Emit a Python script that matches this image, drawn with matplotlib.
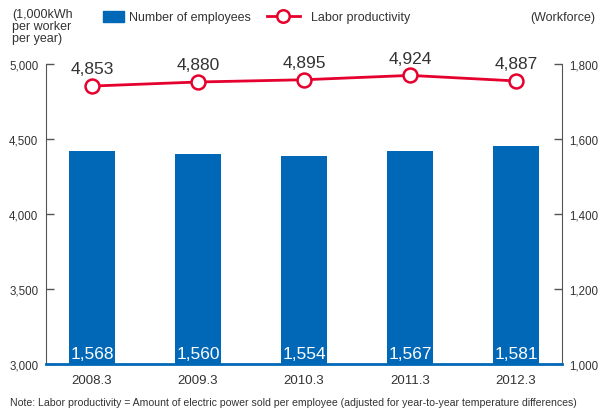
import matplotlib
matplotlib.use("Agg")
import matplotlib.pyplot as plt
from matplotlib.lines import Line2D
from matplotlib.patches import Patch

plt.rcParams['font.family'] = ['Liberation Sans', 'DejaVu Sans']

years = ["2008.3", "2009.3", "2010.3", "2011.3", "2012.3"]
employees = [1568, 1560, 1554, 1567, 1581]
productivity = [4853, 4880, 4895, 4924, 4887]
left_ticks = [3000, 3500, 4000, 4500, 5000]
right_ticks = [1000, 1200, 1400, 1600, 1800]

BLUE = "#0068b7"
RED = "#e5002d"
TXT = "#333333"
SPINE = "#555555"

fig = plt.figure(figsize=(6, 4.1), dpi=100)
ax = fig.add_axes([46/600, 45/410, 516/600, 300/410])
ax2 = ax.twinx()
ax.set_zorder(ax2.get_zorder() + 1)
ax.patch.set_visible(False)

x = list(range(len(years)))

# bars on right axis
ax2.bar(x, employees, width=0.44, color=BLUE, zorder=2)
ax2.set_ylim(1000, 1800)
ax2.set_yticks(right_ticks)
ax2.set_yticklabels([f"{v:,}" for v in right_ticks])
for xi, v in zip(x, employees):
    ax2.text(xi, 1000 + 17, f"{v:,}", ha="center", va="baseline", color="white", fontsize=12.5)

# line on left axis
ax.plot(x, productivity, color=RED, lw=2, marker="o", ms=10, mfc="white", mec=RED, mew=1.8, zorder=5)
ax.set_ylim(3000, 5000)
ax.set_yticks(left_ticks)
ax.set_yticklabels([f"{v:,}" for v in left_ticks])
for xi, v in zip(x, productivity):
    ax.text(xi, v + 85, f"{v:,}", ha="center", va="baseline", color=TXT, fontsize=12.5)

ax.set_xlim(-0.434, 4.434)
ax.set_xticks(x)
ax.set_xticklabels(years)

for a in (ax, ax2):
    a.spines["top"].set_visible(False)
    a.tick_params(axis="y", direction="in", length=6, width=1, color=SPINE, labelsize=8.3, labelcolor=TXT, pad=5.5)
    a.tick_params(axis="x", length=0, labelsize=9.5, labelcolor=TXT, pad=7)
ax.spines["left"].set_color(SPINE)
ax.spines["right"].set_visible(False)
ax2.spines["left"].set_visible(False)
ax2.spines["right"].set_color(SPINE)
ax.spines["bottom"].set_color(BLUE)
ax.spines["bottom"].set_linewidth(2)
ax2.spines["bottom"].set_visible(False)

# legend-like header (two separate legends for different handle sizes)
fig.legend([Patch(facecolor=BLUE, edgecolor=BLUE)], ["Number of employees"],
           loc="center left", bbox_to_anchor=(103/600, 1 - 18/410), frameon=False,
           fontsize=9, handlelength=1.7, handleheight=1.0, handletextpad=0.4,
           labelcolor=TXT, borderaxespad=0, borderpad=0)
fig.legend([Line2D([0], [0], color=RED, lw=2, marker="o", ms=9, mfc="white", mec=RED, mew=1.8)],
           ["Labor productivity"],
           loc="center left", bbox_to_anchor=(267/600, 1 - 18/410), frameon=False,
           fontsize=9, handlelength=2.6, handletextpad=0.9,
           labelcolor=TXT, borderaxespad=0, borderpad=0)

fig.text(12/600, 1 - 9/410, "(1,000kWh\nper worker\nper year)", ha="left", va="top",
         fontsize=9, color=TXT, linespacing=1.0)
fig.text(595/600, 1 - 18/410, "(Workforce)", ha="right", va="center", fontsize=9, color=TXT)
fig.text(10/600, 1 - 403/410, "Note: Labor productivity = Amount of electric power sold per employee (adjusted for year-to-year temperature differences)",
         ha="left", va="center", fontsize=7.6, color=TXT)

fig.savefig("out.png", dpi=100)
